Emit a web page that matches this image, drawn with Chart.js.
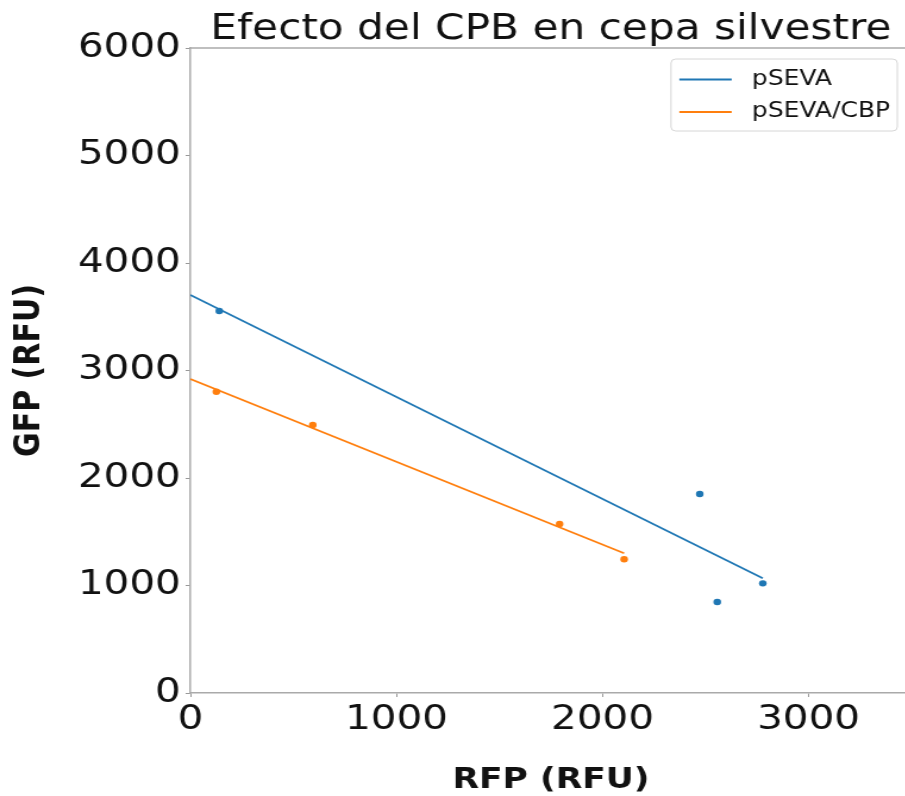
<!DOCTYPE html>
<html>
<head>
<meta charset="utf-8">
<script src="https://cdn.jsdelivr.net/npm/chart.js@4.4.1/dist/chart.umd.min.js"></script>
<style>
  html, body { margin: 0; padding: 0; overflow: hidden; background: #fff; }
  /* the reference picture is stretched sideways, so the canvas is too */
  #chart { transform: scaleX(1.19); transform-origin: 0 0; }
</style>
</head>
<body>
<canvas id="chart" width="770" height="796"></canvas>
<script>
// measured points
const rfpSEVA = [140, 2472, 2557, 2778];
const gfpSEVA = [3553, 1851, 846, 1020];
const rfpCBP = [126, 594, 1792, 2105];
const gfpCBP = [2803, 2493, 1572, 1244];

// fitted lines (end points)
const fitRfpSEVA = [0, 2778];
const fitGfpSEVA = [3702, 1067];
const fitRfpCBP = [0, 2105];
const fitGfpCBP = [2921, 1300];

const seriesNames = ['pSEVA', 'pSEVA/CBP'];
const xTicks = [0, 1000, 2000, 3000];
const yTicks = [0, 1000, 2000, 3000, 4000, 5000, 6000];

const BLUE = '#1f77b4';
const ORANGE = '#ff7f0e';
const FONT = "'DejaVu Sans', sans-serif";

Chart.defaults.font.family = FONT;
Chart.defaults.color = '#111';

const pts = (xs, ys) => xs.map((x, i) => ({ x: x, y: ys[i] }));

const titlePlugin = {
    id: 'plotTitle',
    afterDraw(chart) {
        const { ctx, chartArea } = chart;
        ctx.save();
        ctx.font = '35.5px ' + FONT;
        ctx.fillStyle = '#111';
        ctx.textAlign = 'center';
        ctx.textBaseline = 'alphabetic';
        ctx.fillText('Efecto del CPB en cepa silvestre', (chartArea.left + chartArea.right) / 2, 39);
        ctx.restore();
    }
};

// top spine (the right one falls outside the picture)
const framePlugin = {
    id: 'frame',
    afterDraw(chart) {
        const { ctx, chartArea } = chart;
        ctx.save();
        ctx.strokeStyle = '#aaa';
        ctx.lineWidth = 1.5;
        ctx.beginPath();
        ctx.moveTo(chartArea.left, chartArea.top);
        ctx.lineTo(chartArea.right, chartArea.top);
        ctx.stroke();
        ctx.restore();
    }
};

const legendPlugin = {
    id: 'boxLegend',
    afterDraw(chart) {
        const { ctx, chartArea } = chart;
        const lines = chart.data.datasets.filter(d => d.showLine);
        ctx.save();
        ctx.font = '21px ' + FONT;
        const textW = Math.max(...lines.map(d => ctx.measureText(d.label).width));
        const w = 7 + 44 + 17 + textW + 6;
        const x0 = chartArea.right - 12 - w;
        const y0 = 59, h = 72, rowH = 32.5, firstRow = 79.5;
        ctx.beginPath();
        ctx.roundRect(x0, y0, w, h, 4);
        ctx.fillStyle = 'rgba(255,255,255,0.8)';
        ctx.fill();
        ctx.strokeStyle = '#d6d6d6';
        ctx.lineWidth = 1;
        ctx.stroke();
        lines.forEach((d, i) => {
            const y = firstRow + i * rowH;
            ctx.strokeStyle = d.borderColor;
            ctx.lineWidth = 1.8;
            ctx.beginPath();
            ctx.moveTo(x0 + 7, y);
            ctx.lineTo(x0 + 51, y);
            ctx.stroke();
            ctx.fillStyle = '#111';
            ctx.textBaseline = 'middle';
            ctx.fillText(d.label, x0 + 68, y);
        });
        ctx.restore();
    }
};

new Chart(document.getElementById('chart'), {
    type: 'scatter',
    data: {
        datasets: [
            {
                label: seriesNames[0],
                data: pts(fitRfpSEVA, fitGfpSEVA),
                showLine: true,
                borderColor: BLUE,
                borderWidth: 1.8,
                pointRadius: 0,
            },
            {
                label: seriesNames[1],
                data: pts(fitRfpCBP, fitGfpCBP),
                showLine: true,
                borderColor: ORANGE,
                borderWidth: 1.8,
                pointRadius: 0,
            },
            {
                label: seriesNames[0] + ' datos',
                data: pts(rfpSEVA, gfpSEVA),
                backgroundColor: BLUE,
                borderWidth: 0,
                pointRadius: 3.2,
            },
            {
                label: seriesNames[1] + ' datos',
                data: pts(rfpCBP, gfpCBP),
                backgroundColor: ORANGE,
                borderWidth: 0,
                pointRadius: 3.2,
            }
        ]
    },
    options: {
        responsive: false,
        animation: false,
        devicePixelRatio: 1,
        layout: {
            padding: { top: 48, right: 1, left: 0, bottom: 0 }
        },
        scales: {
            x: {
                type: 'linear',
                min: 0,
                max: 3500,
                afterBuildTicks: s => { s.ticks = xTicks.map(v => ({ value: v })); },
                afterFit: s => { s.height = 103; },
                grid: { drawOnChartArea: false, drawTicks: true, tickLength: 4, color: '#999' },
                border: { color: '#aaa', width: 1.5 },
                ticks: { font: { size: 34 }, color: '#111', padding: 3, maxRotation: 0, callback: v => String(v) },
                title: {
                    display: true,
                    text: 'RFP (RFU)',
                    font: { size: 29, weight: 'bold', lineHeight: 1 },
                    color: '#111',
                    padding: { top: 0, bottom: 1 }
                }
            },
            y: {
                type: 'linear',
                min: 0,
                max: 6000,
                afterBuildTicks: s => { s.ticks = yTicks.map(v => ({ value: v })); },
                afterFit: s => { s.width = 160; },
                grid: { drawOnChartArea: false, drawTicks: true, tickLength: 4, color: '#999' },
                border: { color: '#aaa', width: 1.5 },
                ticks: { font: { size: 34 }, color: '#111', padding: 4, callback: v => String(v) },
                title: {
                    display: true,
                    text: 'GFP (RFU)',
                    font: { size: 30, weight: 'bold', lineHeight: 1 },
                    color: '#111',
                    padding: { top: 10, bottom: 0 }
                }
            }
        },
        plugins: {
            legend: { display: false },
            tooltip: { enabled: false }
        }
    },
    plugins: [titlePlugin, framePlugin, legendPlugin]
});
</script>
</body>
</html>
